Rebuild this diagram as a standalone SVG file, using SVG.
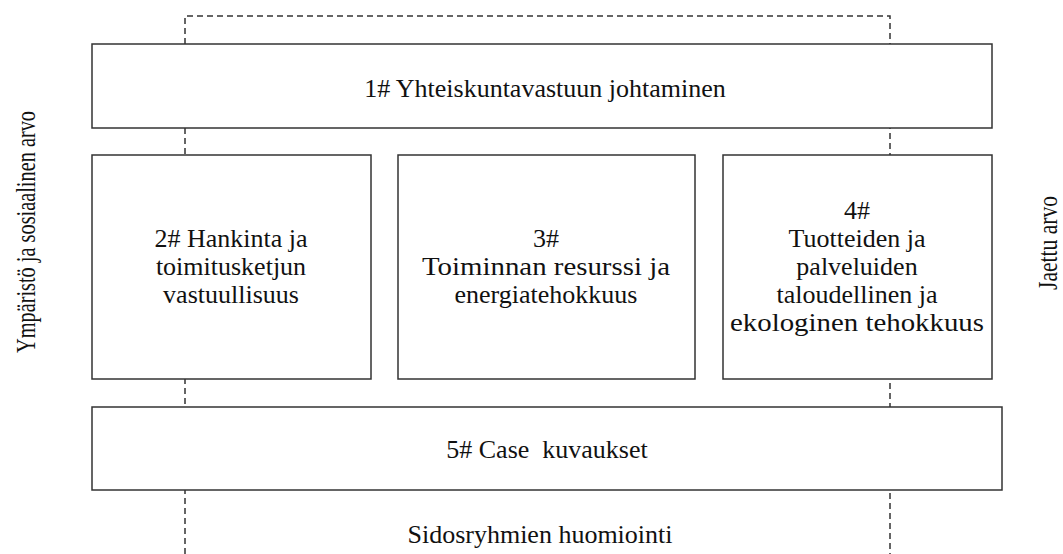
<svg xmlns="http://www.w3.org/2000/svg" width="1063" height="554" viewBox="0 0 1063 554">
  <style>
    .box { fill: #ffffff; stroke: #333333; stroke-width: 1.5; }
    .dash { fill: none; stroke: #333333; stroke-width: 1.5; stroke-dasharray: 6 4; }
    .lbl { font-family: "Liberation Serif", "Times New Roman", serif; font-size: 26px; fill: #111111; text-anchor: middle; }
    .side { font-family: "Liberation Serif", "Times New Roman", serif; font-size: 27px; fill: #111111; text-anchor: middle; }
  </style>
  <rect width="1063" height="554" fill="#ffffff"/>

  <!-- dashed frame lines running behind the boxes -->
  <g id="connectors">
    <path class="dash" d="M185 554 V16 H890 V554"/>
  </g>

  <g id="node1">
    <rect class="box" x="92" y="44" width="900" height="84"/>
    <text class="lbl" x="545" y="97">1# Yhteiskuntavastuun johtaminen</text>
  </g>

  <g id="node2">
    <rect class="box" x="92" y="155" width="279" height="224"/>
    <text class="lbl" x="231" y="247">2# Hankinta ja</text>
    <text class="lbl" x="231" y="275">toimitusketjun</text>
    <text class="lbl" x="231" y="303">vastuullisuus</text>
  </g>

  <g id="node3">
    <rect class="box" x="398" y="155" width="297" height="224"/>
    <text class="lbl" x="546" y="247">3#</text>
    <text class="lbl" x="546" y="275" textLength="248" lengthAdjust="spacingAndGlyphs">Toiminnan resurssi ja</text>
    <text class="lbl" x="546" y="303">energiatehokkuus</text>
  </g>

  <g id="node4">
    <rect class="box" x="723" y="155" width="269" height="224"/>
    <text class="lbl" x="857" y="219">4#</text>
    <text class="lbl" x="857" y="247">Tuotteiden ja</text>
    <text class="lbl" x="857" y="275">palveluiden</text>
    <text class="lbl" x="857" y="303">taloudellinen ja</text>
    <text class="lbl" x="857" y="331" textLength="254" lengthAdjust="spacingAndGlyphs">ekologinen tehokkuus</text>
  </g>

  <g id="node5">
    <rect class="box" x="92" y="407" width="910" height="83"/>
    <text class="lbl" x="547" y="458" xml:space="preserve">5# Case  kuvaukset</text>
  </g>

  <g id="labels">
    <text class="side" transform="translate(35 232) rotate(-90)" textLength="242" lengthAdjust="spacingAndGlyphs">Ympäristö ja sosiaalinen arvo</text>
    <text class="side" transform="translate(1057 243) rotate(-90)" textLength="94" lengthAdjust="spacingAndGlyphs">Jaettu arvo</text>
    <text class="lbl" x="540" y="543">Sidosryhmien huomiointi</text>
  </g>
</svg>
